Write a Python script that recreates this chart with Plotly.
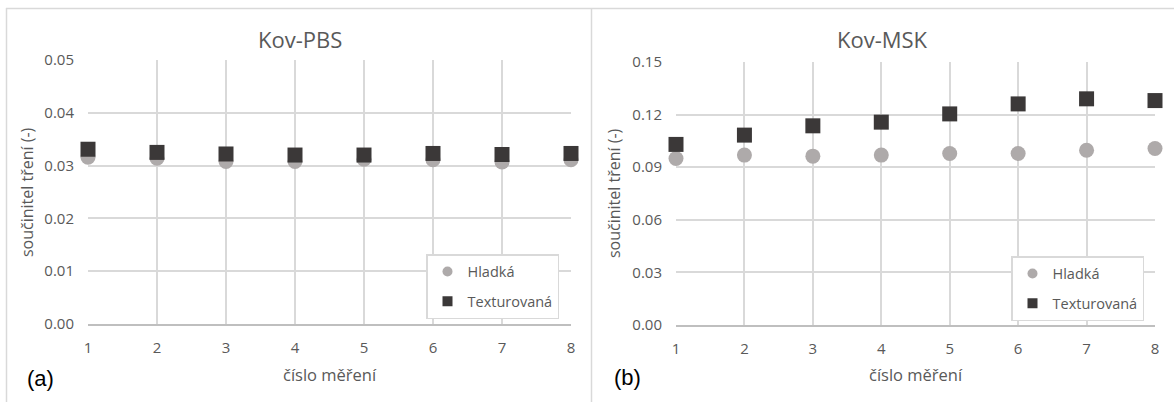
import plotly.graph_objects as go

# Measurement numbers and friction coefficients
mereni = [1, 2, 3, 4, 5, 6, 7, 8]

pbs_hladka = [0.0316, 0.0314, 0.0308, 0.0308, 0.0312, 0.0311, 0.0307, 0.0311]
pbs_texturovana = [0.0331, 0.0325, 0.0322, 0.0320, 0.0320, 0.0323, 0.0321, 0.0323]

msk_hladka = [0.0950, 0.0969, 0.0963, 0.0969, 0.0978, 0.0978, 0.0997, 0.1007]
msk_texturovana = [0.1030, 0.1083, 0.1136, 0.1157, 0.1204, 0.1261, 0.1290, 0.1280]

pbs_yticks = [0.00, 0.01, 0.02, 0.03, 0.04, 0.05]
msk_yticks = [0.00, 0.03, 0.06, 0.09, 0.12, 0.15]

W, H = 1174, 405
TEXT = "#595959"
GRID = "#D9D9D9"
C_HLADKA = "#AEAAAA"
C_TEXT = "#3B3838"
FONT = "Open Sans"


def px(x):
    return x / W


def py(y):
    return 1 - y / H


fig = go.Figure()

panels = [
    ("x", "y", "legend", pbs_hladka, pbs_texturovana),
    ("x2", "y2", "legend2", msk_hladka, msk_texturovana),
]
for i, (xa, ya, lg, hl, tx) in enumerate(panels):
    fig.add_trace(go.Scatter(
        x=mereni, y=hl, mode="markers", name="Hladká", showlegend=False,
        xaxis=xa, yaxis=ya, legendgroup=f"h{i}",
        marker=dict(symbol="circle", size=15, color=C_HLADKA, line=dict(width=0)),
        cliponaxis=False,
    ))
    fig.add_trace(go.Scatter(
        x=mereni, y=tx, mode="markers", name="Texturovaná", showlegend=False,
        xaxis=xa, yaxis=ya, legendgroup=f"t{i}",
        marker=dict(symbol="square", size=15, color=C_TEXT, line=dict(width=0)),
        cliponaxis=False,
    ))
    # legend entries with smaller key symbols
    fig.add_trace(go.Scatter(
        x=[None], y=[None], mode="markers", name="Hladká",
        xaxis=xa, yaxis=ya, legend=lg, legendgroup=f"h{i}",
        marker=dict(symbol="circle", size=10, color=C_HLADKA, line=dict(width=0)),
    ))
    fig.add_trace(go.Scatter(
        x=[None], y=[None], mode="markers", name="Texturovaná",
        xaxis=xa, yaxis=ya, legend=lg, legendgroup=f"t{i}",
        marker=dict(symbol="square", size=10, color=C_TEXT, line=dict(width=0)),
    ))

xcommon = dict(
    range=[1, 8], tickmode="array", tickvals=mereni, ticktext=[str(m) for m in mereni],
    showgrid=True, gridcolor=GRID, gridwidth=1.5, zeroline=False,
    showline=True, linecolor="#BFBFBF", linewidth=1.5, mirror=False,
    ticks="", ticklabelstandoff=9, automargin=False,
    tickfont=dict(family=FONT, size=15, color=TEXT),
)
ycommon = dict(
    showgrid=True, gridcolor=GRID, gridwidth=1.5, zeroline=False,
    showline=False, ticks="", ticklabelstandoff=13, tickformat=".2f",
    automargin=False,
    tickfont=dict(family=FONT, size=15, color=TEXT),
)

legend_style = dict(
    xanchor="right", yanchor="top",
    bgcolor="white", bordercolor=GRID, borderwidth=1.5,
    font=dict(family=FONT, size=14.5, color=TEXT),
    tracegroupgap=8, itemwidth=30,
)

fig.update_layout(
    width=W, height=H, autosize=False,
    margin=dict(l=0, r=0, t=0, b=0, pad=0, autoexpand=False),
    paper_bgcolor="white", plot_bgcolor="white",
    showlegend=True,
    xaxis=dict(domain=[px(88), px(571)], anchor="y", **xcommon),
    yaxis=dict(domain=[py(324), py(60)], anchor="x", range=[0, 0.05],
               tickvals=pbs_yticks, **ycommon),
    xaxis2=dict(domain=[px(676), px(1155)], anchor="y2", **xcommon),
    yaxis2=dict(domain=[py(325), py(62)], anchor="x2", range=[0, 0.15],
                tickvals=msk_yticks, **ycommon),
    legend=dict(x=px(559), y=py(254), **legend_style),
    legend2=dict(x=px(1144), y=py(256), **legend_style),
)

# Chart-area frames
frame = dict(type="line", xref="paper", yref="paper",
             line=dict(color=GRID, width=1.5), layer="below")
fig.add_shape(x0=px(6), x1=px(W), y0=py(8.5), y1=py(8.5), **frame)
fig.add_shape(x0=px(6.5), x1=px(6.5), y0=py(8), y1=py(402), **frame)
fig.add_shape(x0=px(591.5), x1=px(591.5), y0=py(8), y1=py(402), **frame)

annotations = [
    # chart titles
    dict(text="Kov-PBS", x=px(299.5), y=py(39), font=dict(family=FONT, size=22, color=TEXT)),
    dict(text="Kov-MSK", x=px(882.5), y=py(39), font=dict(family=FONT, size=22, color=TEXT)),
    # axis titles
    dict(text="číslo měření", x=px(329.5), y=py(374), font=dict(family=FONT, size=16.5, color=TEXT)),
    dict(text="číslo měření", x=px(915.5), y=py(374), font=dict(family=FONT, size=16.5, color=TEXT)),
    dict(text="součinitel tření (-)", x=px(27), y=py(192), textangle=-90,
         font=dict(family=FONT, size=16, color=TEXT)),
    dict(text="součinitel tření (-)", x=px(614), y=py(193), textangle=-90,
         font=dict(family=FONT, size=16, color=TEXT)),
    # panel labels
    dict(text="(a)", x=px(40.5), y=py(378), font=dict(family="Liberation Sans", size=22, color="#000000")),
    dict(text="(b)", x=px(627), y=py(377), font=dict(family="Liberation Sans", size=22, color="#000000")),
]
for a in annotations:
    fig.add_annotation(xref="paper", yref="paper", xanchor="center", yanchor="middle",
                       showarrow=False, **a)

fig.write_html("out.html")
